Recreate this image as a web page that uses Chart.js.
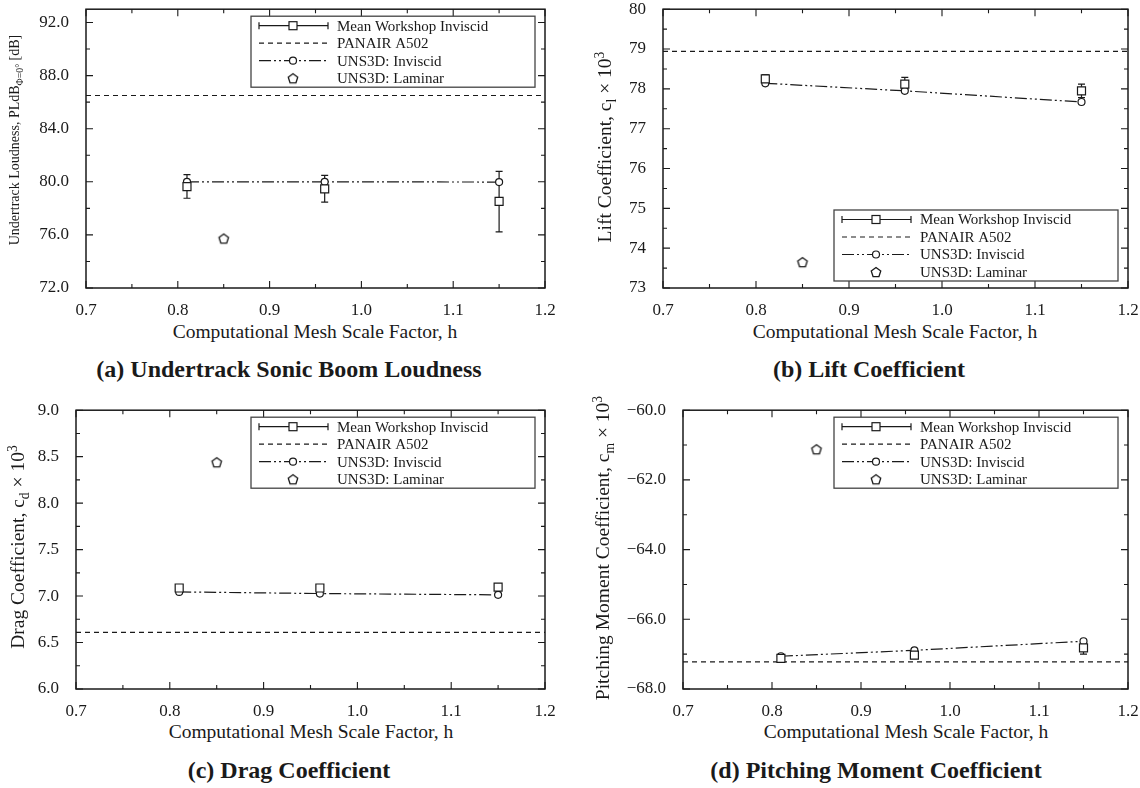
<!DOCTYPE html>
<html>
<head>
<meta charset="utf-8">
<script src="https://cdn.jsdelivr.net/npm/chart.js@4.4.1/dist/chart.umd.min.js"></script>
<style>
html, body { margin: 0; padding: 0; background: #fff; }
body { width: 1140px; height: 788px; position: relative; overflow: hidden;
       font-family: 'Liberation Serif', 'Times New Roman', serif; color: #1a1a1a; }
canvas { position: absolute; }
.xt, .yt, .cap { position: absolute; white-space: nowrap; line-height: 1; }
.xt { font-size: 19.5px; transform: translate(-50%, -50%); }
.yt { font-size: 19.5px; transform: translate(-50%, -50%) rotate(-90deg); }
.cap { font-size: 24px; font-weight: bold; transform: translate(-50%, -50%); }
sub, sup { font-size: 70%; line-height: 0; }
</style>
</head>
<body>
<canvas id="ca"></canvas>
<canvas id="cb"></canvas>
<canvas id="cc"></canvas>
<canvas id="cd"></canvas>

<div class="yt" style="left:15px;top:140px;font-size:14px">Undertrack Loudness, PLdB<sub>Φ=0°</sub> [dB]</div>
<div class="yt" style="left:605px;top:147px">Lift Coefficient, c<sub>l</sub> × 10<sup>3</sup></div>
<div class="yt" style="left:18px;top:547px">Drag Coefficient, c<sub>d</sub> × 10<sup>3</sup></div>
<div class="yt" style="left:603px;top:548px">Pitching Moment Coefficient, c<sub>m</sub> × 10<sup>3</sup></div>

<div class="xt" style="left:315px;top:332px">Computational Mesh Scale Factor, h</div>
<div class="xt" style="left:895px;top:332px">Computational Mesh Scale Factor, h</div>
<div class="xt" style="left:311px;top:732px">Computational Mesh Scale Factor, h</div>
<div class="xt" style="left:906px;top:732px">Computational Mesh Scale Factor, h</div>

<div class="cap" style="left:289px;top:369px">(a) Undertrack Sonic Boom Loudness</div>
<div class="cap" style="left:869px;top:369px">(b) Lift Coefficient</div>
<div class="cap" style="left:289px;top:770px">(c) Drag Coefficient</div>
<div class="cap" style="left:876px;top:770px">(d) Pitching Moment Coefficient</div>

<script>
// mesh scale factors
const meshH = [0.81, 0.96, 1.15];
const laminarH = [0.85];
const panairH = [0.7, 1.2];
const xTicks = [0.7, 0.8, 0.9, 1.0, 1.1, 1.2];

const legendLabels = ['Mean Workshop Inviscid', 'PANAIR A502', 'UNS3D: Inviscid', 'UNS3D: Laminar'];

// (a) undertrack loudness
const loudMean = [79.63, 79.46, 78.52];
const loudLow = [78.76, 78.47, 76.22];
const loudHigh = [80.54, 80.49, 80.79];
const loudPanair = 86.5;
const loudInviscid = [80.0, 80.0, 79.98];
const loudLaminar = [75.73];
const loudTicks = [72, 76, 80, 84, 88, 92];

// (b) lift
const liftMean = [78.25, 78.12, 77.95];
const liftLow = [78.15, 78.0, 77.78];
const liftHigh = [78.35, 78.29, 78.12];
const liftPanair = 78.94;
const liftInviscid = [78.14, 77.95, 77.67];
const liftLaminar = [73.65];
const liftTicks = [73, 74, 75, 76, 77, 78, 79, 80];

// (c) drag
const dragMean = [7.087, 7.087, 7.097];
const dragLow = [7.078, 7.078, 7.088];
const dragHigh = [7.096, 7.096, 7.106];
const dragPanair = 6.61;
const dragInviscid = [7.045, 7.027, 7.013];
const dragLaminar = [8.44];
const dragTicks = [6.0, 6.5, 7.0, 7.5, 8.0, 8.5, 9.0];

// (d) pitching moment
const pitchMean = [-67.12, -67.03, -66.82];
const pitchLow = [-67.17, -67.13, -67.0];
const pitchHigh = [-67.05, -66.9, -66.65];
const pitchPanair = -67.22;
const pitchInviscid = [-67.06, -66.89, -66.63];
const pitchLaminar = [-61.12];
const pitchTicks = [-68, -66, -64, -62, -60];

const INK = '#1a1a1a';
const FONT = "'Liberation Serif', 'Times New Roman', serif";
const DASH = [5, 4];
const DASH_DOT = [12, 3, 2, 3, 2, 3];

function makePentagon(r) {
    const c = document.createElement('canvas');
    const s = Math.ceil(r * 2 + 4);
    c.width = s;
    c.height = s;
    const g = c.getContext('2d');
    g.beginPath();
    for (let i = 0; i < 5; i++) {
        const a = -Math.PI / 2 + i * 2 * Math.PI / 5;
        g.lineTo(s / 2 + r * Math.cos(a), s / 2 + r * Math.sin(a) + r * 0.1);
    }
    g.closePath();
    g.fillStyle = '#fff';
    g.fill();
    g.lineWidth = 1.3;
    g.strokeStyle = INK;
    g.stroke();
    return c;
}
const pentagon = makePentagon(5);

function drawSquare(ctx, x, y) {
    ctx.fillStyle = '#fff';
    ctx.fillRect(x - 4, y - 4, 8, 8);
    ctx.strokeRect(x - 4, y - 4, 8, 8);
}

function drawCircle(ctx, x, y) {
    ctx.beginPath();
    ctx.arc(x, y, 3.5, 0, Math.PI * 2);
    ctx.fillStyle = '#fff';
    ctx.fill();
    ctx.stroke();
}

function drawScaleTicks(ctx, scale, area, step, isX) {
    const n = Math.floor((scale.max - scale.min) / step + 1e-6);
    for (let i = 0; i <= n; i++) {
        const v = scale.min + i * step;
        const major = scale.ticks.some(t => Math.abs(t.value - v) < step * 1e-3);
        const len = major ? 7 : 4;
        const p = scale.getPixelForValue(v);
        ctx.beginPath();
        if (isX) {
            ctx.moveTo(p, area.bottom); ctx.lineTo(p, area.bottom - len);
            ctx.moveTo(p, area.top); ctx.lineTo(p, area.top + len);
        } else {
            ctx.moveTo(area.left, p); ctx.lineTo(area.left + len, p);
            ctx.moveTo(area.right, p); ctx.lineTo(area.right - len, p);
        }
        ctx.stroke();
    }
}

function drawLegend(ctx, area, where) {
    const w = 284, h = 71;
    const left = area.right - 10 - w;
    const top = where === 'top' ? area.top + 7 : area.bottom - 7 - h;
    ctx.save();
    ctx.strokeStyle = '#444';
    ctx.lineWidth = 1.3;
    ctx.strokeRect(left, top, w, h);
    ctx.strokeStyle = INK;
    ctx.lineWidth = 1.2;
    const x0 = left + 8, x1 = left + 77, xm = left + 42;
    const rows = [top + 9.5, top + 27, top + 44.5, top + 62];

    // errorbar sample
    ctx.beginPath();
    ctx.moveTo(x0, rows[0]); ctx.lineTo(x1, rows[0]);
    ctx.moveTo(x0, rows[0] - 3.5); ctx.lineTo(x0, rows[0] + 3.5);
    ctx.moveTo(x1, rows[0] - 3.5); ctx.lineTo(x1, rows[0] + 3.5);
    ctx.stroke();
    drawSquare(ctx, xm, rows[0]);

    ctx.setLineDash(DASH);
    ctx.beginPath();
    ctx.moveTo(x0, rows[1]); ctx.lineTo(x1, rows[1]);
    ctx.stroke();

    ctx.setLineDash(DASH_DOT);
    ctx.beginPath();
    ctx.moveTo(x0, rows[2]); ctx.lineTo(x1, rows[2]);
    ctx.stroke();
    ctx.setLineDash([]);
    drawCircle(ctx, xm, rows[2]);

    ctx.drawImage(pentagon, xm - pentagon.width / 2, rows[3] - pentagon.height / 2);

    ctx.fillStyle = INK;
    ctx.font = '15px ' + FONT;
    ctx.textBaseline = 'middle';
    ctx.textAlign = 'left';
    legendLabels.forEach((t, i) => ctx.fillText(t, left + 86, rows[i] + 1));
    ctx.restore();
}

const framePlugin = {
    id: 'frame',
    beforeDatasetsDraw(chart, args, opts) {
        const ctx = chart.ctx;
        const meta = chart.getDatasetMeta(0);
        const ys = chart.scales.y;
        ctx.save();
        ctx.strokeStyle = INK;
        ctx.lineWidth = 1.2;
        meta.data.forEach((pt, i) => {
            const yl = ys.getPixelForValue(opts.low[i]);
            const yh = ys.getPixelForValue(opts.high[i]);
            ctx.beginPath();
            ctx.moveTo(pt.x, yl); ctx.lineTo(pt.x, yh);
            ctx.moveTo(pt.x - 3.5, yl); ctx.lineTo(pt.x + 3.5, yl);
            ctx.moveTo(pt.x - 3.5, yh); ctx.lineTo(pt.x + 3.5, yh);
            ctx.stroke();
        });
        ctx.restore();
    },
    afterDraw(chart, args, opts) {
        const ctx = chart.ctx;
        const area = chart.chartArea;
        ctx.save();
        ctx.strokeStyle = INK;
        ctx.lineWidth = 1.5;
        ctx.strokeRect(area.left, area.top, area.right - area.left, area.bottom - area.top);
        ctx.lineWidth = 1.1;
        drawScaleTicks(ctx, chart.scales.x, area, 0.05, true);
        drawScaleTicks(ctx, chart.scales.y, area, opts.yMinor, false);
        ctx.restore();
        drawLegend(ctx, area, opts.legend);
    }
};

function pts(xs, ys) {
    return xs.map((x, i) => ({ x: x, y: ys[i] }));
}

const PAD_T = 15, PAD_R = 25, Y_W = 62, X_H = 28;

function buildChart(id, plot, p) {
    const cv = document.getElementById(id);
    const left = plot.l - Y_W, top = plot.t - PAD_T;
    const width = plot.r - left + PAD_R, height = plot.b - top + X_H;
    cv.style.left = left + 'px';
    cv.style.top = top + 'px';
    cv.width = width;
    cv.height = height;
    cv.style.width = width + 'px';
    cv.style.height = height + 'px';

    const tickFont = { family: FONT, size: 17 };
    new Chart(cv, {
        type: 'scatter',
        data: {
            datasets: [
                {
                    label: legendLabels[0],
                    data: pts(meshH, p.mean),
                    showLine: false,
                    pointStyle: 'rect',
                    pointRadius: 5.66,
                    borderColor: INK,
                    backgroundColor: '#fff',
                    borderWidth: 1.2
                },
                {
                    label: legendLabels[1],
                    data: pts(panairH, [p.panair, p.panair]),
                    showLine: true,
                    borderDash: DASH,
                    borderColor: INK,
                    borderWidth: 1.2,
                    pointRadius: 0
                },
                {
                    label: legendLabels[2],
                    data: pts(meshH, p.inviscid),
                    showLine: true,
                    borderDash: DASH_DOT,
                    borderColor: INK,
                    borderWidth: 1.2,
                    pointStyle: 'circle',
                    pointRadius: 3.5,
                    pointBorderWidth: 1.2,
                    backgroundColor: '#fff'
                },
                {
                    label: legendLabels[3],
                    data: pts(laminarH, p.laminar),
                    showLine: false,
                    pointStyle: pentagon,
                    pointRadius: 5
                }
            ]
        },
        options: {
            responsive: false,
            animation: false,
            devicePixelRatio: 1,
            layout: { padding: { left: 0, top: PAD_T, right: PAD_R, bottom: 0 } },
            plugins: {
                legend: { display: false },
                tooltip: { enabled: false },
                frame: { low: p.low, high: p.high, yMinor: p.yMinor, legend: p.legend }
            },
            scales: {
                x: {
                    type: 'linear',
                    min: 0.7,
                    max: 1.2,
                    afterBuildTicks: s => { s.ticks = xTicks.map(v => ({ value: v })); },
                    afterFit: s => { s.height = X_H; },
                    grid: { display: false },
                    border: { display: false },
                    ticks: {
                        font: tickFont, color: INK, padding: 4,
                        maxRotation: 0, autoSkip: false,
                        callback: v => Number(v).toFixed(1)
                    }
                },
                y: {
                    type: 'linear',
                    min: p.yMin,
                    max: p.yMax,
                    afterBuildTicks: s => { s.ticks = p.yTicks.map(v => ({ value: v })); },
                    afterFit: s => { s.width = Y_W; },
                    grid: { display: false },
                    border: { display: false },
                    ticks: {
                        font: tickFont, color: INK, padding: 9, autoSkip: false,
                        callback: p.yFmt
                    }
                }
            }
        },
        plugins: [framePlugin]
    });
}

const minusFmt = v => (v < 0 ? '\u2212' : '') + Math.abs(v).toFixed(1);

buildChart('ca', { l: 86, t: 4.5, r: 545, b: 288 }, {
    mean: loudMean, low: loudLow, high: loudHigh, panair: loudPanair,
    inviscid: loudInviscid, laminar: loudLaminar,
    yMin: 72, yMax: 93, yTicks: loudTicks, yMinor: 2,
    yFmt: v => Number(v).toFixed(1), legend: 'top'
});
buildChart('cb', { l: 663, t: 4.5, r: 1128, b: 288 }, {
    mean: liftMean, low: liftLow, high: liftHigh, panair: liftPanair,
    inviscid: liftInviscid, laminar: liftLaminar,
    yMin: 73, yMax: 80, yTicks: liftTicks, yMinor: 0.5,
    yFmt: v => Number(v).toFixed(0), legend: 'bottom'
});
buildChart('cc', { l: 76, t: 406, r: 545, b: 689 }, {
    mean: dragMean, low: dragLow, high: dragHigh, panair: dragPanair,
    inviscid: dragInviscid, laminar: dragLaminar,
    yMin: 6, yMax: 9, yTicks: dragTicks, yMinor: 0.25,
    yFmt: v => Number(v).toFixed(1), legend: 'top'
});
buildChart('cd', { l: 683, t: 406, r: 1128, b: 689 }, {
    mean: pitchMean, low: pitchLow, high: pitchHigh, panair: pitchPanair,
    inviscid: pitchInviscid, laminar: pitchLaminar,
    yMin: -68, yMax: -60, yTicks: pitchTicks, yMinor: 1,
    yFmt: minusFmt, legend: 'top'
});
</script>
</body>
</html>
